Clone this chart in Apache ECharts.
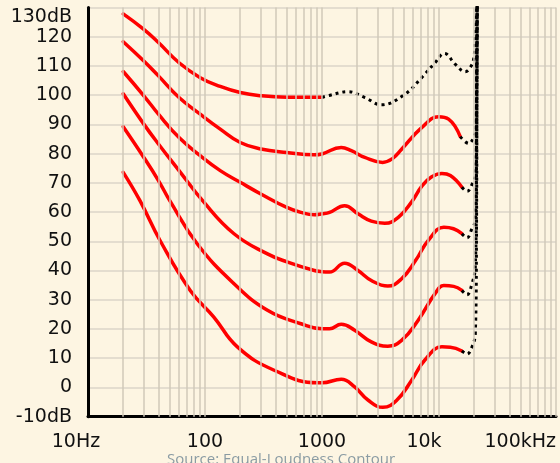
<!DOCTYPE html>
<html>
<head>
<meta charset="utf-8">
<script src="https://cdn.jsdelivr.net/npm/echarts@6.0.0/dist/echarts.min.js"></script>
<style>
  html, body { margin: 0; padding: 0; background: #fdf5e2; overflow: hidden; height: 463px; }
  #chart { width: 560px; height: 463px; }
</style>
</head>
<body>
<div id="chart"></div>
<script>
// equal loudness contours, [Hz, dB]
var phon100 = [[20,127.8],[30,122.5],[40,118],[60,111.1],[91,106],[135,103],[200,100.9],[300,99.8],[500,99.3],[1000,99.3]]
var phon100Tail = [[1000,99.3],[1120,99.8],[1670,101.2],[2320,99.2],[3220,96.7],[5100,100.3],[7110,106],[9250,111.1],[11140,114.3],[13750,110.6],[16750,108],[18500,109.5],[19800,112.5],[20500,121],[21100,131]]

var phon80 = [[20,118.3],[30,111.7],[40,106.6],[60,99.2],[91,93.5],[135,88.4],[200,83.8],[300,81.6],[500,80.4],[860,79.6],[1000,79.9],[1460,82.1],[1780,81],[2320,78.7],[3300,77],[4000,78.3],[4790,81.5],[7110,88.9],[9900,92.6],[12070,91.8],[15200,85.8]]
var phon80Tail = [[15200,85.8],[17950,83.5],[19800,85.6],[20700,89],[21000,110],[21200,135]]

var phon60 = [[20,108.1],[30,99.8],[40,93.5],[60,85.5],[91,79.3],[135,74.2],[200,70.2],[300,66.2],[500,61.6],[660,59.9],[860,59.1],[1000,59.4],[1160,59.9],[1560,62.2],[2030,59.4],[2640,56.9],[3440,56.2],[4490,58.2],[5840,63.5],[7110,68.8],[8600,72],[10580,73.2],[12500,72.5],[15700,68.5]]
var phon60Tail = [[15700,68.5],[17400,67.1],[19150,69.5],[20440,73],[20900,100],[21200,135]]

var phon40 = [[20,100.5],[30,90.1],[40,83.3],[60,74.2],[95,64],[177,52.6],[342,45.7],[509,42.9],[860,40],[1000,39.6],[1160,39.5],[1560,42.5],[2030,40],[2640,36.6],[3650,34.7],[4790,37.2],[6300,43.4],[8100,50.3],[11000,54.8],[13300,54.3],[15700,52.6]]
var phon40Tail = [[15700,52.6],[17350,51.2],[19150,54.4],[20440,57.1],[20900,80],[21200,135]]

var phon20 = [[20,89.2],[30,78.7],[40,70.8],[50,63.9],[86,49.1],[177,35.5],[342,26.4],[661,21.8],[1000,20.1],[1160,20.1],[1460,21.6],[1900,19.6],[2640,15.6],[3650,14.1],[4790,16.1],[6640,23],[9250,32.1],[11000,34.9],[13340,34.6],[15700,33.2]]
var phon20Tail = [[15700,33.2],[17350,31.7],[19150,35.5],[20440,41.2],[20900,70],[21200,135]]

var phon0 = [[20,73.6],[27.8,63.9],[41.4,50.2],[74.8,33.2],[119,24.1],[189,13.9],[390,5.9],[920,1.6],[1000,1.6],[1460,2.8],[1900,0.2],[2470,-4.3],[3320,-6.8],[4370,-4.3],[5840,2.5],[7540,9.3],[10580,13.9],[12500,13.8],[15700,12.5]]
var phon0Tail = [[15700,12.5],[17350,11.4],[19150,13.9],[20440,18.4],[20900,50],[21200,135]]

var redCurves = [phon100, phon80, phon60, phon40, phon20, phon0]
var tails = [phon100Tail, phon80Tail, phon60Tail, phon40Tail, phon20Tail, phon0Tail]

var xLabels = {10: '10Hz', 100: '100', 1000: '1000', 10000: '10k', 100000: '100kHz'}

// vertical log grid lines 20..90, 200..900 etc
var vLines = []
for (var dec = 10; dec < 100000; dec *= 10) {
    for (var m = 2; m <= 10; m++) vLines.push(dec * m)
}

var chart = echarts.init(document.getElementById('chart'))

var series = [{
    type: 'line',
    data: [],
    z: 1,
    silent: true,
    markLine: {
        silent: true,
        symbol: ['none', 'none'],
        label: {show: false},
        lineStyle: {color: '#d0c8b8', width: 1.5, type: 'solid'},
        emphasis: {disabled: true},
        data: vLines.map(function (v) { return {xAxis: v} })
    }
}]
redCurves.forEach(function (d) {
    series.push({
        type: 'line',
        data: d,
        z: 3,
        showSymbol: false,
        smooth: 0.45,
        lineStyle: {color: '#ff0000', width: 3.5, cap: 'round'}
    })
})
tails.forEach(function (d) {
    series.push({
        type: 'line',
        data: d,
        z: 4,
        showSymbol: false,
        smooth: 0.4,
        lineStyle: {color: '#000', width: 3, type: [3, 4]}
    })
})

chart.setOption({
    backgroundColor: '#fdf5e2',
    animation: false,
    grid: {left: 88, right: 4, top: 7.5, bottom: 46.3},
    xAxis: {
        type: 'log',
        logBase: 10,
        min: 10,
        max: 100000,
        axisLine: {show: true, onZero: false, lineStyle: {color: '#000', width: 3}},
        axisTick: {show: false},
        splitLine: {show: false},
        axisLabel: {
            fontFamily: 'DejaVu Sans',
            fontSize: 19,
            color: '#111',
            margin: 16,
            alignMaxLabel: 'right',
            formatter: function (v) {
                var s = xLabels[Math.round(v)] || ''
                if (s === '10Hz') return '{l|' + s + '}'
                if (s === '10k') return '{k|' + s + '}'
                return s
            },
            rich: {
                l: {fontFamily: 'DejaVu Sans', fontSize: 19, color: '#111', padding: [0, 24, 0, 0]},
                k: {fontFamily: 'DejaVu Sans', fontSize: 19, color: '#111', padding: [0, 30, 0, 0]}
            }
        }
    },
    yAxis: {
        type: 'value',
        min: -10,
        max: 130,
        interval: 10,
        axisLine: {show: true, onZero: false, lineStyle: {color: '#000', width: 3}},
        axisTick: {show: false},
        splitLine: {show: true, lineStyle: {color: '#dbd5c9', width: 1.5}},
        axisLabel: {
            fontFamily: 'DejaVu Sans',
            fontSize: 19,
            color: '#111',
            margin: 16,
            verticalAlignMaxLabel: 'top',
            formatter: function (v) {
                if (v === -10 || v === 130) return v + 'dB'
                return v
            }
        }
    },
    graphic: [{
        type: 'text',
        x: 167,
        y: 452,
        style: {text: 'Source: Equal-Loudness Contour', font: '15px "Open Sans"', fill: '#8a9ba3', verticalAlign: 'top'}
    }],
    series: series
})
</script>
</body>
</html>
